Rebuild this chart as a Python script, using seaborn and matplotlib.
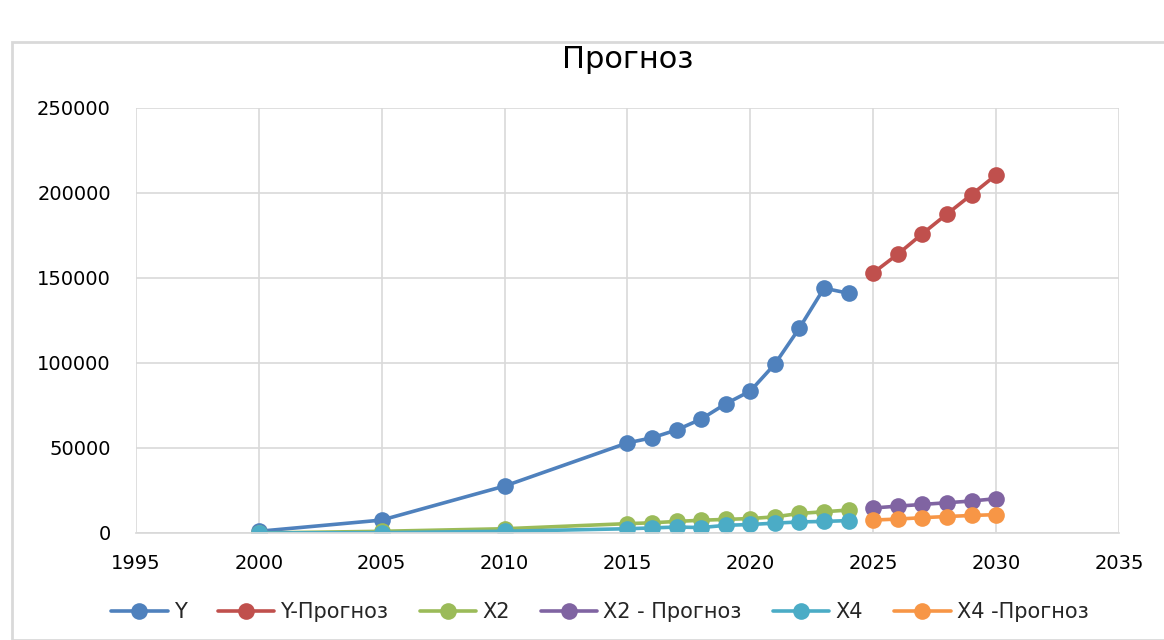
import numpy as np
import pandas as pd
import seaborn as sns
import matplotlib.pyplot as plt
from matplotlib.patches import Rectangle

years_hist = [2000, 2005, 2010, 2015, 2016, 2017, 2018, 2019, 2020, 2021, 2022, 2023, 2024]
years_fc = [2025, 2026, 2027, 2028, 2029, 2030]

y_hist = [1000, 7600, 27600, 53000, 56000, 60600, 67000, 76000, 83500, 99400, 120600, 144000, 141000]
y_fc = [153000, 164000, 176000, 187600, 199000, 210600]
x2_hist = [0, 1000, 2500, 5500, 6000, 6800, 7500, 8000, 8500, 9500, 11500, 12500, 13500]
x2_fc = [14700, 15800, 16800, 17800, 18800, 20200]
x4_hist = [0, 200, 1000, 2500, 3000, 3500, 3200, 4500, 5000, 5800, 6500, 6800, 7300]
x4_fc = [7600, 8200, 9000, 9700, 10300, 10800]

labels = ['Y', 'Y-Прогноз', 'X2', 'X2 - Прогноз', 'X4', 'X4 -Прогноз']
colors = ['#4F81BD', '#C0504D', '#9BBB59', '#8064A2', '#4BACC6', '#F79646']

series = [
    (years_hist, y_hist), (years_fc, y_fc),
    (years_hist, x2_hist), (years_fc, x2_fc),
    (years_hist, x4_hist), (years_fc, x4_fc),
]

sns.set_theme(style='whitegrid')
plt.rcParams['font.family'] = ['DejaVu Sans']

fig = plt.figure(figsize=(11.64, 6.4), dpi=100)
ax = fig.add_axes([0.1168, 0.1672, 0.8445, 0.6641])

for (xs, ys), lab, col in zip(series, labels, colors):
    df = pd.DataFrame({'year': xs, 'value': ys})
    sns.lineplot(data=df, x='year', y='value', ax=ax, color=col, label=lab,
                 marker='o', markersize=12, markeredgewidth=0, linewidth=2.6)

ax.set_xlim(1995, 2035)
ax.set_ylim(0, 250000)
ax.set_xticks(np.arange(1995, 2036, 5))
ax.set_yticks(np.arange(0, 250001, 50000))
ax.set_xlabel('')
ax.set_ylabel('')
ax.grid(True, color='#d9d9d9', linewidth=1.2)
for s in ['top', 'right', 'left']:
    ax.spines[s].set_visible(False)
ax.spines['bottom'].set_color('#d9d9d9')
ax.tick_params(axis='both', labelsize=14, colors='#000000', length=0)
ax.tick_params(axis='x', pad=15)
ax.tick_params(axis='y', pad=18)

ax.set_title('Прогноз', fontsize=22, pad=29, color='#000000')

ax.legend(loc='center', bbox_to_anchor=(0.472, -0.186), ncol=6, frameon=False,
          fontsize=15, handlelength=2.7, columnspacing=1.5, handletextpad=0.3)

fig.patches.append(Rectangle((12 / 1164, 0), 1.0, (640 - 42) / 640, transform=fig.transFigure,
                             fill=False, edgecolor='#d9d9d9', linewidth=2))

fig.savefig('out.png', dpi=100, facecolor='white')
